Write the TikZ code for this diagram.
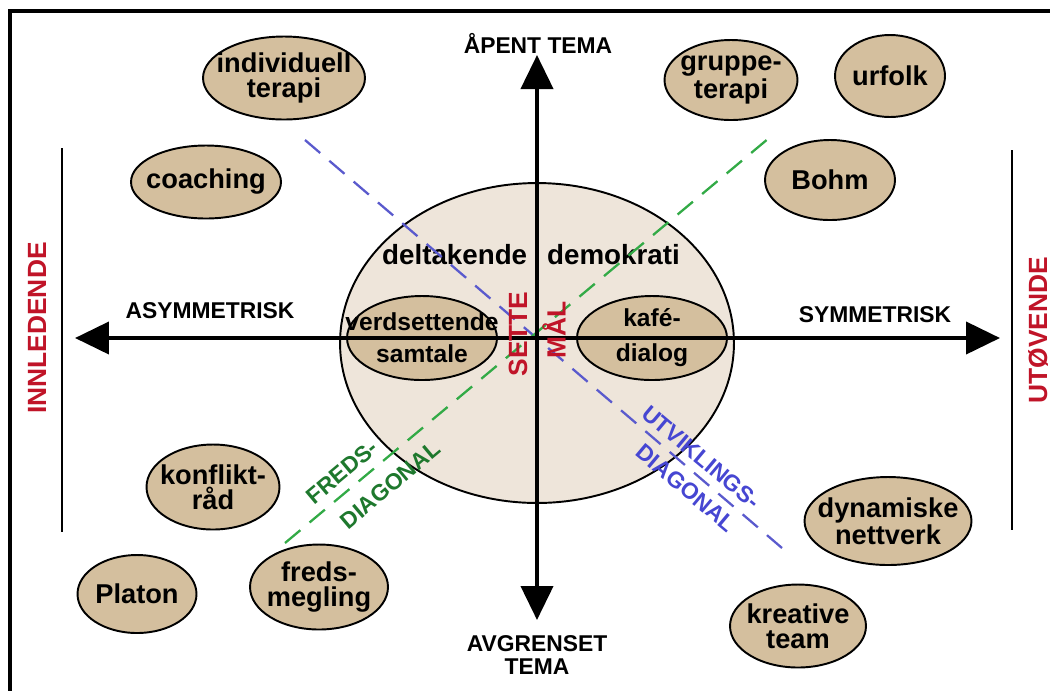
\documentclass[tikz,border=0pt]{standalone}
\usepackage{fontspec}
\setmainfont{Liberation Sans}
\usetikzlibrary{shapes.geometric, arrows.meta}

\definecolor{tanfill}{RGB}{212,191,158}
\definecolor{sandfill}{RGB}{238,229,218}
\definecolor{sidered}{RGB}{192,20,40}
\definecolor{fredline}{RGB}{50,170,70}
\definecolor{fredtext}{RGB}{30,120,45}
\definecolor{devline}{RGB}{90,90,205}
\definecolor{devtext}{RGB}{70,70,210}

\begin{document}
\begin{tikzpicture}[
        x=0.02cm, y=-0.02cm,
        node ell/.style = {ellipse, draw, line width=1.1pt, fill=tanfill, inner sep=-2cm, align=center, font=\fontsize{15.5}{14}\selectfont\bfseries},
        node big/.style = {ellipse, draw, line width=1.1pt, fill=sandfill, minimum width=7.88cm, minimum height=6.4cm},
        node inner/.style = {node ell, minimum width=3cm, minimum height=1.68cm, font=\fontsize{14}{18}\selectfont\bfseries},
        label axis/.style = {align=center, font=\fontsize{13}{13.6}\selectfont\bfseries},
        label side/.style = {rotate=90, text=sidered, font=\fontsize{15}{16}\selectfont\bfseries},
        label diag/.style = {font=\fontsize{13}{14}\selectfont\bfseries},
        axis/.style = {line width=2.3pt, >={Triangle[length=0.68cm, width=0.64cm]}, <->},
        diag/.style = {line width=1.3pt, dash pattern=on 0.4cm off 0.24cm},
        ]
        \useasboundingbox (0,0) rectangle (1050,691);

        % Frame
        \draw[line width=1.8pt] (1050,11) -- (10,11) -- (10,691);
        \draw[line width=1.4pt] (62,148) -- (62,532);
        \draw[line width=1.4pt] (1012,150) -- (1012,530);

        % Centre nodes
        \node[node big] (demo) at (537,343) {};
        \node[node inner] (verd) at (422,338) {verdsettende\\samtale};
        \node[node inner] (kafe) at (652,338) {kafé-\\[2pt]dialog};
        \node[font=\fontsize{15.8}{16}\selectfont\bfseries] (deltak) at (531,255) {deltakende\hspace{0.4cm}demokrati};

        % Diagonals
        \coordinate (b1) at (305,140);
        \coordinate (b2) at (782,548);
        \coordinate (g1) at (285,543);
        \coordinate (g2) at (775,133);
        \draw[diag, devline] (b1) -- (b2);
        \draw[diag, fredline] (g1) -- (g2);

        % Axes
        \coordinate (top) at (537,55);
        \coordinate (bot) at (537,620);
        \coordinate (lft) at (75,338);
        \coordinate (rgt) at (1000,338);
        \draw[axis] (bot) -- (top);
        \draw[axis] (lft) -- (rgt);

        % Axis labels
        \node[label axis] (open) at (538,43) {ÅPENT TEMA};
        \node[label axis] (closed) at (537,655) {AVGRENSET\\TEMA};
        \node[label axis] (asym) at (210,311) {ASYMMETRISK};
        \node[label axis] (sym) at (875,315) {SYMMETRISK};
        \node[label side] (innl) at (37,328) {INNLEDENDE};
        \node[label side] (utov) at (1038,330) {UTØVENDE};
        \node[label side] (sette) at (518,334) {SETTE};
        \node[label side] (maal) at (554,330) {MÅL};

        % Diagonal labels
        \node[label diag, text=fredtext, rotate=40] (freds) at (342,472) {FREDS-};
        \node[label diag, text=fredtext, rotate=40] (fdiag) at (390,485) {DIAGONAL};
        \node[label diag, text=devtext, rotate=-40] (utv) at (701,457) {UTVIKLINGS-};
        \node[label diag, text=devtext, rotate=-40] (udiag) at (686,488) {DIAGONAL};

        % Upper nodes
        \node[node ell, minimum width=3.24cm, minimum height=1.66cm] (indiv) at (284,78) {individuell\\terapi};
        \node[node ell, minimum width=3cm, minimum height=1.46cm] (coach) at (206,182) {coaching};
        \node[node ell, minimum width=2.66cm, minimum height=1.6cm] (gruppe) at (731,80) {gruppe-\\terapi};
        \node[node ell, minimum width=2.2cm, minimum height=1.64cm] (urfolk) at (890,76) {urfolk};
        \node[node ell, minimum width=2.6cm, minimum height=1.6cm] (bohm) at (830,180) {Bohm};

        % Lower nodes
        \node[node ell, minimum width=2.66cm, minimum height=1.7cm] (konflikt) at (213,487) {konflikt-\\råd};
        \node[node ell, minimum width=2.38cm, minimum height=1.56cm] (platon) at (137,594) {Platon};
        \node[node ell, minimum width=2.76cm, minimum height=1.7cm] (megling) at (319,587) {freds-\\megling};
        \node[node ell, minimum width=3.34cm, minimum height=1.76cm] (nettverk) at (888,521) {dynamiske\\nettverk};
        \node[node ell, minimum width=2.72cm, minimum height=1.66cm] (kreativ) at (798,626) {kreative\\team};
    \end{tikzpicture}
\end{document}
